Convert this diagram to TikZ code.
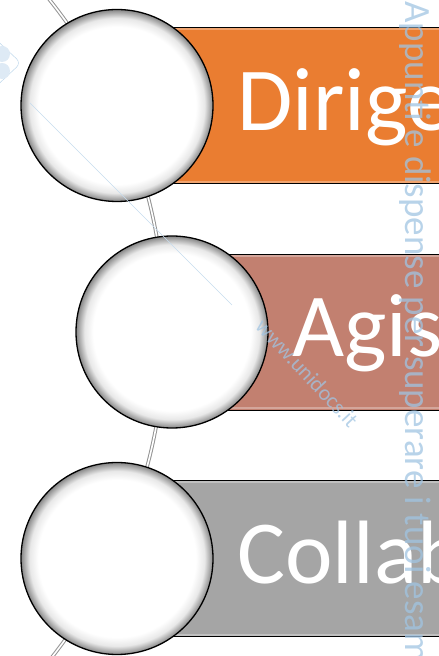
\documentclass[tikz,border=0pt]{standalone}
\usepackage{fontspec}
\setmainfont{Carlito}
\usetikzlibrary{shapes.geometric}

\definecolor{barorange}{RGB}{234,125,49}
\definecolor{barbrown}{RGB}{194,128,112}
\definecolor{bargray}{RGB}{165,165,165}
\definecolor{wmblue}{RGB}{160,196,226}

\pgfdeclareradialshading{glass}{\pgfpoint{0bp}{0bp}}{color(0bp)=(white); color(20.5bp)=(white); color(22.8bp)=(gray!18); color(24.3bp)=(gray!70); color(25bp)=(gray!95); color(50bp)=(gray!95)}

\tikzstyle{bubble} = [circle, 
minimum size=192pt, 
draw=black, 
line width=1.3pt, 
shading=glass]
\tikzstyle{bar} = [rectangle, anchor=west,
minimum height=156pt, 
text width=260pt, 
align=left, 
inner xsep=64pt, inner ysep=0pt,
text height=60pt, text depth=10pt,
draw=black, line width=0.9pt,
text=white,
font=\fontsize{90}{90}\selectfont]
\tikzstyle{shine} = [white, opacity=0.3, line width=2pt]
\tikzstyle{link} = [draw=gray!85, double=white, double distance=1.6pt, line width=1pt]
\tikzstyle{wmark} = [text=wmblue, opacity=0.75]

\begin{document}
\begin{tikzpicture}[x=1pt, y=1pt]

\useasboundingbox (0,0) rectangle (439,656);
\clip (0,0) rectangle (439,656);

\coordinate (p1) at (117,550.5);
\coordinate (p2) at ([xshift=55pt, yshift=-226.5pt]p1);
\coordinate (p3) at ([xshift=-55pt, yshift=-226.5pt]p2);

% backbone behind the circles
\coordinate (arctop) at ([shift={(39:530)}]-365,326);
\draw [link] (arctop) arc[start angle=39, end angle=-39, radius=530];

\node (dirige) [bar, fill=barorange] at ([xshift=56pt]p1) {Dirige};
\node (agis) [bar, fill=barbrown] at ([xshift=56pt]p2) {Agis};
\node (collab) [bar, fill=bargray] at ([xshift=56pt]p3) {Collab};

% light edges inside the bars
\foreach \b in {dirige, agis, collab} {
  \draw [shine] ([yshift=-2pt]\b.north west) -- ([yshift=-2pt]\b.north east);
  \draw [shine] ([yshift=2pt]\b.south west) -- ([yshift=2pt]\b.south east);
}

\node (c1) [bubble] at (p1) {};
\node (c2) [bubble] at (p2) {};
\node (c3) [bubble] at (p3) {};

% watermark
\draw [wmblue!70, line width=0.5pt, rounded corners=6pt] (-12,624) -- (21,593) -- (-12,562);
\fill [wmblue!35] (2,602) circle (8) (2,585) circle (8);
\draw [wmblue!60, line width=0.5pt] (30,553) -- (232,351);
\node (wmside) [wmark, rotate=-90, anchor=base west, font=\fontsize{37}{37}\selectfont] at (405,658) {Appunti e dispense per superare i tuoi esami};
\node (wmsite) [wmark, rotate=-47, anchor=base west, font=\fontsize{22}{22}\selectfont] at (252,331) {www.unidocs.it};

\end{tikzpicture}
\end{document}
